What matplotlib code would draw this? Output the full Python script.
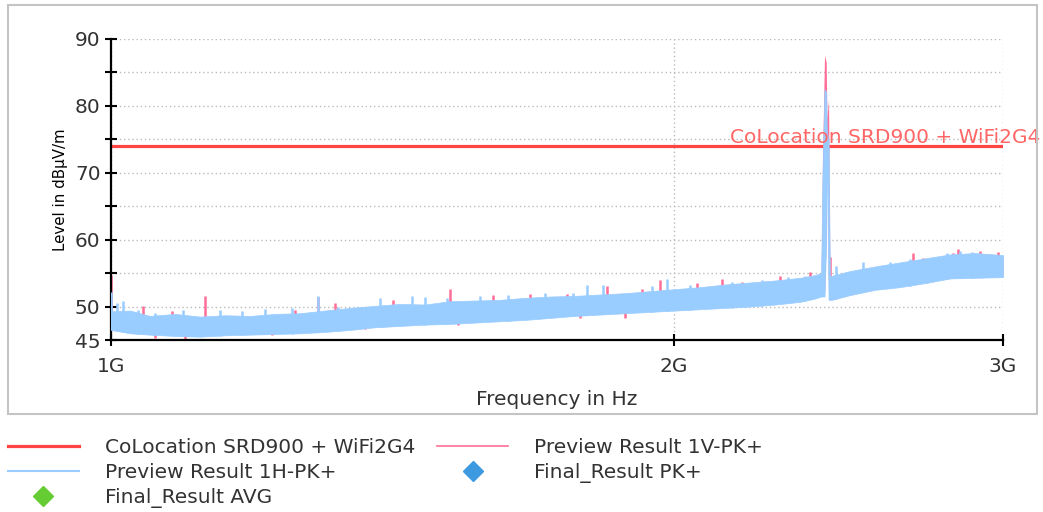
import matplotlib

matplotlib.use("Agg")
import matplotlib.pyplot as plt
import matplotlib.transforms as mtransforms
import numpy as np
from matplotlib.lines import Line2D
from matplotlib.patches import Rectangle
from matplotlib.ticker import FixedLocator, NullLocator

# frequency grid (MHz), plus envelope levels (dBuV/m)
freq_mhz = [1000, 1024, 1049, 1082, 1116, 1151, 1187, 1224, 1262, 1301, 1342, 1384,
            1427, 1472, 1518, 1565, 1614, 1665, 1717, 1771, 1826, 1883, 1942, 2003,
            2066, 2130, 2197, 2266, 2337, 2380, 2398, 2402, 2408, 2413, 2415, 2420,
            2424, 2430, 2484, 2563, 2642, 2725, 2811, 2899, 3000]

h_upper = [49.3, 49.4, 48.6, 48.9, 48.5, 48.7, 48.6, 48.9, 49.0, 49.4, 49.8, 50.1,
           50.4, 50.3, 50.8, 50.9, 51.0, 51.3, 51.5, 51.6, 51.8, 52.0, 52.3, 52.6,
           52.9, 53.3, 53.6, 53.9, 54.3, 54.7, 55.0, 70.0, 82.5, 82.0, 76.0, 75.0,
           54.5, 54.6, 55.3, 56.0, 56.6, 57.2, 57.8, 58.0, 57.7]
h_lower = [46.5, 46.0, 45.8, 45.6, 45.5, 45.7, 45.8, 45.9, 46.0, 46.2, 46.5, 46.9,
           47.1, 47.3, 47.4, 47.6, 47.8, 48.0, 48.3, 48.6, 48.8, 49.0, 49.2, 49.4,
           49.6, 49.8, 50.0, 50.3, 50.7, 51.2, 51.5, 51.5, 51.5, 60.0, 75.0, 51.0,
           51.0, 51.0, 51.7, 52.5, 52.9, 53.5, 54.2, 54.3, 54.4]

# vertical trace mostly hides under the horizontal one, except at the peak
v_upper = [49.0, 49.1, 48.3, 48.6, 48.2, 48.4, 48.3, 48.6, 48.7, 49.1, 49.5, 49.8,
           50.1, 50.0, 50.5, 50.6, 50.7, 51.0, 51.2, 51.3, 51.5, 51.7, 52.0, 52.3,
           52.6, 53.0, 53.3, 53.6, 54.0, 54.4, 54.7, 72.0, 87.6, 86.5, 78.0, 81.0,
           54.2, 54.3, 55.0, 55.7, 56.3, 56.9, 57.5, 57.7, 57.4]
v_lower = [46.8, 46.3, 46.1, 45.9, 45.8, 46.0, 46.1, 46.2, 46.3, 46.5, 46.8, 47.2,
           47.4, 47.6, 47.7, 47.9, 48.1, 48.3, 48.6, 48.9, 49.1, 49.3, 49.5, 49.7,
           49.9, 50.1, 50.3, 50.6, 51.0, 51.5, 51.8, 51.8, 51.8, 60.0, 74.5, 51.3,
           51.3, 51.3, 52.0, 52.8, 53.2, 53.8, 54.5, 54.6, 54.7]

# isolated spikes that stick out of the noise band
v_spike_f = [1000, 1040, 1078, 1123, 1254, 1290, 1318, 1415, 1518, 1601, 1675, 1753,
             1842, 1923, 1966, 2058, 2122, 2175, 2279, 2365, 2424, 2685, 2719, 2821,
             2838, 2917, 2981]
v_spike_top = [54.7, 50.1, 49.3, 51.6, 49.5, 51.5, 50.6, 51.0, 52.6, 51.7, 51.9, 51.9,
               53.0, 52.6, 53.9, 53.5, 54.1, 53.7, 54.5, 55.2, 57.4, 58.0, 57.3, 58.0,
               58.6, 58.3, 58.2]
v_dip_f = [1056, 1095, 1219, 1367, 1422, 1533, 1782, 1883, 1995]
v_dip_bottom = [45.3, 45.2, 45.7, 46.6, 47.2, 47.2, 48.3, 48.3, 49.5]

h_spike_f = [1000, 1007, 1015, 1034, 1056, 1093, 1144, 1175, 1209, 1250, 1290, 1323,
             1393, 1449, 1472, 1513, 1575, 1631, 1707, 1766, 1798, 1833, 1947, 1984,
             2041, 2149, 2229, 2302, 2350, 2442, 2525, 2611, 2676, 2732, 2801, 2845,
             2888, 2953]
h_spike_top = [52.2, 50.6, 50.9, 49.5, 49.0, 49.5, 49.5, 49.3, 49.6, 49.8, 51.6, 50.0,
               51.3, 51.6, 51.4, 51.3, 51.6, 51.7, 52.1, 52.0, 53.2, 53.2, 53.0, 54.1,
               53.2, 53.7, 54.0, 54.4, 54.6, 56.0, 56.7, 56.7, 57.1, 57.0, 58.0, 58.3,
               58.2, 57.7]

limit_f = [1000, 3000]
limit_level = [74, 74]

final_pk_f, final_pk_level = [], []
final_avg_f, final_avg_level = [], []

RED = "#FF4444"
PINK = "#FF6E96"
LBLUE = "#99CCFF"
DBLUE = "#3D99E0"
GREEN = "#66CC33"
TXT = "#333333"

fig = plt.figure(figsize=(10.43, 5.12), dpi=100)
fig.add_artist(Rectangle((8 / 1043, 1 - 414 / 512), 1029 / 1043, 409 / 512,
                         transform=fig.transFigure, fill=False,
                         edgecolor="#C4C4C4", lw=1.5))

ax = fig.add_axes([111 / 1043, 1 - 340 / 512, 892 / 1043, 301 / 512])

f = np.array(freq_mhz, dtype=float)
ax.fill_between(f, v_lower, v_upper, color=PINK, lw=0, zorder=2)
ax.vlines(v_spike_f, np.interp(v_spike_f, f, v_lower), v_spike_top,
          color=PINK, lw=1.8, zorder=2)
ax.vlines(v_dip_f, v_dip_bottom, np.interp(v_dip_f, f, v_upper),
          color=PINK, lw=1.8, zorder=2)
ax.fill_between(f, h_lower, h_upper, color=LBLUE, lw=0.5, zorder=3)
ax.vlines(h_spike_f, np.interp(h_spike_f, f, h_lower), h_spike_top,
          color=LBLUE, lw=1.8, zorder=3)
ax.plot(limit_f, limit_level, color=RED, lw=2.3, zorder=1.5)
ax.plot(final_pk_f, final_pk_level, "D", color=DBLUE)
ax.plot(final_avg_f, final_avg_level, "D", color=GREEN)

trans = mtransforms.blended_transform_factory(ax.transAxes, ax.transData)
ax.text(1.0415, 74.45, "CoLocation SRD900 + WiFi2G4", transform=trans,
        ha="right", va="baseline", color="#FF6666", fontsize=14.5,
        clip_on=False, zorder=5)

ax.set_xscale("log")
ax.set_xlim(1000, 3000)
ax.set_ylim(45, 90)
ax.xaxis.set_major_locator(FixedLocator([1000, 2000, 3000]))
ax.xaxis.set_minor_locator(NullLocator())
ax.set_xticklabels(["1G", "2G", "3G"])
yt = [45, 50, 55, 60, 65, 70, 75, 80, 85, 90]
ax.yaxis.set_major_locator(FixedLocator(yt))
ax.set_yticklabels([str(v) if v in (45, 50, 60, 70, 80, 90) else "" for v in yt])

for s in ("top", "right"):
    ax.spines[s].set_visible(False)
for s in ("left", "bottom"):
    ax.spines[s].set_linewidth(1.6)
ax.tick_params(direction="inout", length=9, width=1.5, labelsize=14.5,
               labelcolor=TXT, pad=3)
ax.tick_params(axis="x", pad=8)
ax.grid(True, which="major", color="#BBBBBB", ls=(0, (1, 2)), lw=1.0)
ax.set_axisbelow(True)

ax.set_xlabel("Frequency in Hz", fontsize=14.5, color=TXT, labelpad=10)
ax.set_ylabel("Level in dBµV/m", fontsize=10.8, color="black", labelpad=5)

handles = [
    Line2D([], [], color=RED, lw=2.3),
    Line2D([], [], color=LBLUE, lw=1.5),
    Line2D([], [], ls="none", marker="D", color=GREEN, markersize=10),
    Line2D([], [], color=PINK, lw=1.2),
    Line2D([], [], ls="none", marker="D", color=DBLUE, markersize=10),
]
labels = ["CoLocation SRD900 + WiFi2G4", "Preview Result 1H-PK+", "Final_Result AVG",
          "Preview Result 1V-PK+", "Final_Result PK+"]
fig.legend(handles, labels, ncol=2, loc="upper left",
           bbox_to_anchor=(0.002, 1 - 432 / 512), frameon=False,
           fontsize=14.5, labelcolor=TXT, handlelength=3.5, handletextpad=1.3,
           columnspacing=1.1, labelspacing=0.3, borderpad=0.3, borderaxespad=0)

fig.savefig("out.png", dpi=100)
